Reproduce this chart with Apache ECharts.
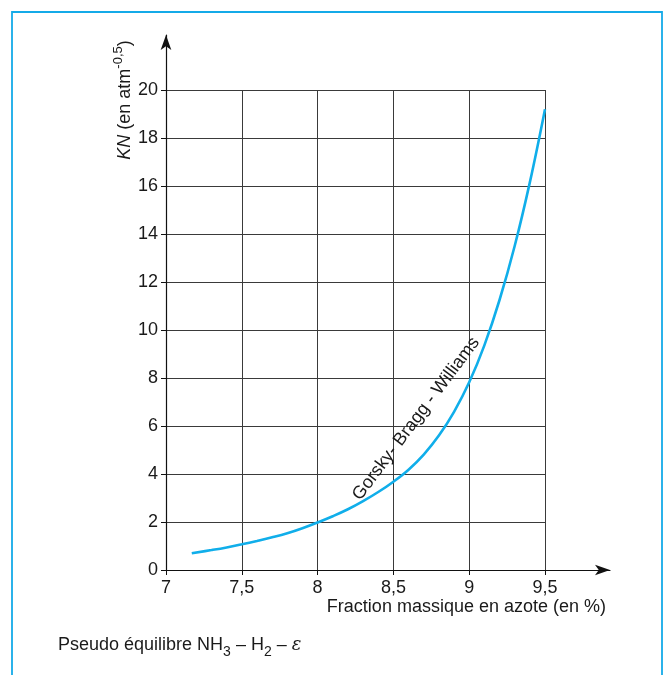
<!DOCTYPE html>
<html>
<head>
<meta charset="utf-8">
<script src="https://cdn.jsdelivr.net/npm/echarts@6/dist/echarts.min.js"></script>
<style>
html,body{margin:0;padding:0;background:#fff;}
#chart{width:666px;height:675px;}
</style>
</head>
<body>
<div id="chart"></div>
<script>
// Data
const nitrogenFraction = [7.17, 7.3, 7.4, 7.5, 7.6, 7.7, 7.8, 7.9, 8.0, 8.1, 8.2, 8.3, 8.4, 8.5, 8.6, 8.7, 8.8, 8.9, 9.0, 9.1, 9.2, 9.3, 9.4, 9.5];
const knValues =         [0.70, 0.83, 0.94, 1.07, 1.21, 1.36, 1.53, 1.74, 1.98, 2.24, 2.53, 2.87, 3.25, 3.68, 4.18, 4.81, 5.60, 6.59, 7.82, 9.36, 11.25, 13.50, 16.15, 19.2];
const xTicks = [7, 7.5, 8, 8.5, 9, 9.5];
const yTicks = [0, 2, 4, 6, 8, 10, 12, 14, 16, 18, 20];
const curveLabel = 'Gorsky- Bragg - Williams';
const curveLabelAt = [8.65, 6.3];

const FONT = '"Liberation Sans", Arial, sans-serif';
const chart = echarts.init(document.getElementById('chart'), null, {renderer: 'canvas'});

const fmt = v => String(v).replace('.', ',');

chart.setOption({
  animation: false,
  backgroundColor: '#ffffff',
  grid: [
    {left: 166, right: 56, top: 35, bottom: 105},
    {left: 166, right: 121, top: 90, bottom: 105}
  ],
  xAxis: [
    {
      gridIndex: 0, type: 'value', min: 7, max: 7 + (610 - 166) / 151.6,
      axisLine: {show: true, lineStyle: {color: '#111', width: 1.2}, symbol: ['none', 'arrow'], symbolSize: [8, 15]},
      axisTick: {show: false}, axisLabel: {show: false}, splitLine: {show: false}
    },
    {
      gridIndex: 1, type: 'value', min: xTicks[0], max: xTicks[xTicks.length - 1], interval: 0.5,
      axisLine: {show: false},
      axisTick: {show: true, length: 5, lineStyle: {color: '#111', width: 1}},
      axisLabel: {show: true, margin: 9, color: '#1a1a1a', fontSize: 18, fontFamily: FONT, formatter: fmt},
      splitLine: {show: true, lineStyle: {color: '#3a3a3a', width: 1}}
    }
  ],
  yAxis: [
    {
      gridIndex: 0, type: 'value', min: 0, max: (570 - 35) / 24,
      axisLine: {show: true, lineStyle: {color: '#111', width: 1.2}, symbol: ['none', 'arrow'], symbolSize: [8, 15]},
      axisTick: {show: false}, axisLabel: {show: false}, splitLine: {show: false}
    },
    {
      gridIndex: 1, type: 'value', min: yTicks[0], max: yTicks[yTicks.length - 1], interval: 2,
      axisLine: {show: false},
      axisTick: {show: true, length: 5, lineStyle: {color: '#111', width: 1}},
      axisLabel: {show: true, margin: 8, color: '#1a1a1a', fontSize: 18, fontFamily: FONT, formatter: fmt},
      splitLine: {show: true, lineStyle: {color: '#3a3a3a', width: 1}}
    }
  ],
  series: [
    {
      type: 'line',
      xAxisIndex: 1, yAxisIndex: 1,
      data: nitrogenFraction.map((x, i) => [x, knValues[i]]),
      smooth: 0.4,
      showSymbol: false,
      symbol: 'none',
      lineStyle: {color: '#10aeea', width: 2.6},
      z: 5,
      markPoint: {
        symbol: 'circle', symbolSize: 0,
        data: [{coord: curveLabelAt, value: curveLabel}],
        label: {
          show: true, formatter: curveLabel, rotate: 53,
          color: '#1a1a1a', fontSize: 18, fontFamily: FONT,
          position: 'inside'
        }
      }
    }
  ],
  graphic: [
    {
      type: 'rect', shape: {x: 12, y: 12, width: 650, height: 700},
      style: {fill: 'none', stroke: '#14aae8', lineWidth: 1.8}, silent: true
    },
    {
      type: 'text', x: 125, y: 100, rotation: Math.PI / 2,
      style: {
        text: '{i|KN} (en atm{sup|-0,5})',
        fontSize: 18, fontFamily: FONT, fill: '#1a1a1a',
        align: 'center', verticalAlign: 'middle',
        rich: {
          i: {fontStyle: 'italic', fontSize: 18, fontFamily: FONT, fill: '#1a1a1a'},
          sup: {fontSize: 13, fontFamily: FONT, fill: '#1a1a1a', verticalAlign: 'top', lineHeight: 26}
        }
      }
    },
    {
      type: 'text', x: 606, y: 607,
      style: {
        text: 'Fraction massique en azote (en %)',
        fontSize: 18, fontFamily: FONT, fill: '#1a1a1a',
        align: 'right', verticalAlign: 'middle'
      }
    },
    {
      type: 'text', x: 58, y: 645,
      style: {
        text: 'Pseudo équilibre NH{sub|3} – H{sub|2} – {eps|ε}',
        fontSize: 18, fontFamily: FONT, fill: '#1a1a1a',
        align: 'left', verticalAlign: 'middle',
        rich: {
          sub: {fontSize: 14, fontFamily: FONT, fill: '#1a1a1a', verticalAlign: 'bottom', lineHeight: 28},
          eps: {fontStyle: 'italic', fontSize: 18, fontFamily: '"DejaVu Serif", serif', fill: '#1a1a1a'}
        }
      }
    }
  ]
});
</script>
</body>
</html>
